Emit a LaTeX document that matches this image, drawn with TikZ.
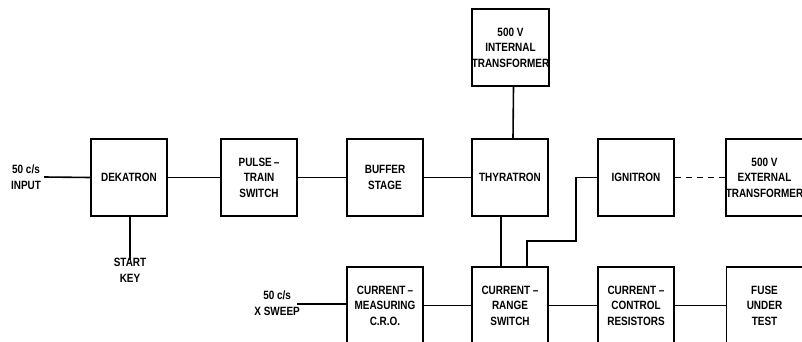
\documentclass[tikz,border=0pt]{standalone}
\usepackage{fontspec}
\newfontfamily\lab{Liberation Sans}[FakeStretch=0.83]
\begin{document}
\begin{tikzpicture}[x=1pt,y=-1pt,
  lettering/.style={font=\lab\bfseries\fontsize{12}{15.5}\selectfont},
  blk/.style={draw,line width=1.6pt,minimum width=76pt,minimum height=77pt,inner sep=0pt,align=center,lettering},
  lbl/.style={align=center,inner sep=0pt,lettering},
  wire/.style={line width=1.6pt}]
\useasboundingbox (0,0) rectangle (802,342);
\clip (0,0) rectangle (802,342);
% top row
\node[blk] (dek) at (129,177.5) {DEKATRON};
\node[blk] (pts) at (259,177.5) {PULSE\,–\\TRAIN\\SWITCH};
\node[blk] (buf) at (385,177.5) {BUFFER\\STAGE};
\node[blk] (thy) at (510,177.5) {THYRATRON};
\node[blk] (ign) at (636,177.5) {IGNITRON};
\node[blk] (etf) at (764.5,177.5) {500 V\\EXTERNAL\\TRANSFORMER};
\node[blk] (itf) at (510.5,47.5) {500 V\\INTERNAL\\TRANSFORMER};
% bottom row
\node[blk] (cro) at (385,305.5) {CURRENT\,–\\MEASURING\\C.R.O.};
\node[blk] (crs) at (510,305.5) {CURRENT –\\RANGE\\SWITCH};
\node[blk] (ccr) at (636,305.5) {CURRENT –\\CONTROL\\RESISTORS};
\node[blk] (fus) at (764.5,305.5) {FUSE\\UNDER\\TEST};
% labels
\node[lbl] (inp) at (26,177) {50 c/s\\INPUT};
\node[lbl,anchor=north] (sk) at (130,258) {START\\KEY};
\node[lbl,anchor=north east] (xs) at (300,291) {50 c/s\\X SWEEP};
\coordinate (xsw) at (297,304);
% connectors
\draw[wire] ([xshift=3pt]inp.east) -- (dek.west);
\draw[wire] ([xshift=1pt]dek.south) -- ([yshift=-2pt]sk.north);
\draw[wire] (dek.east) -- (pts.west);
\draw[wire] (pts.east) -- (buf.west);
\draw[wire] (buf.east) -- (thy.west);
\draw[wire] ([xshift=3pt]itf.south) -- ([xshift=3pt]thy.north);
\draw[wire,dash pattern=on 6pt off 5pt] (ign.east) -- (etf.west);
\draw[wire] ([xshift=-9pt]thy.south) -- ([xshift=-9pt]crs.north);
\draw[wire] (ign.west) -| (576,241) -| ([xshift=17pt]crs.north);
\draw[wire] (xsw) -- (cro.west |- xsw);
\draw[wire] (cro.east) -- (crs.west);
\draw[wire] (crs.east) -- (ccr.west);
\draw[wire] (ccr.east) -- (fus.west);
\end{tikzpicture}
\end{document}
